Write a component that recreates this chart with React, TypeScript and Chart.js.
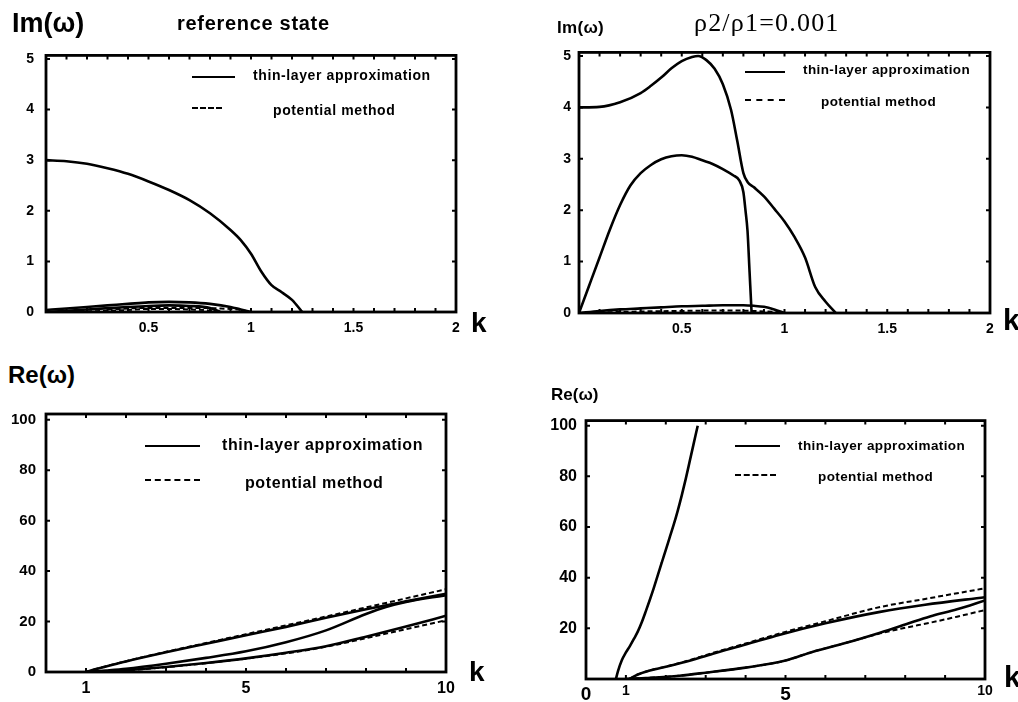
import React, { useEffect, useRef } from "react";
import { Chart, registerables } from "chart.js";

Chart.register(...registerables);

// ---------- Panel 1: Im(ω), reference state ----------
const refImK_main = [0, 0.1, 0.2, 0.3, 0.4, 0.5, 0.6, 0.7, 0.8, 0.9, 0.95, 1.0, 1.05, 1.1, 1.15, 1.2, 1.25];
const refImW_main = [3.0, 2.98, 2.93, 2.84, 2.73, 2.58, 2.41, 2.21, 1.95, 1.62, 1.42, 1.15, 0.8, 0.53, 0.39, 0.24, 0];
const refImK_lowA = [0, 0.1, 0.2, 0.3, 0.4, 0.5, 0.6, 0.7, 0.8, 0.9, 0.95, 1.0];
const refImW_lowA = [0.04, 0.07, 0.1, 0.13, 0.16, 0.19, 0.2, 0.19, 0.16, 0.1, 0.05, 0];
const refImK_lowB = [0, 0.2, 0.4, 0.5, 0.6, 0.7, 0.8, 0.85];
const refImW_lowB = [0, 0.05, 0.1, 0.12, 0.13, 0.12, 0.08, 0];
const refImK_dashC = [0.2, 0.4, 0.5, 0.6, 0.7, 0.8, 0.85];
const refImW_dashC = [0.01, 0.04, 0.06, 0.06, 0.05, 0.03, 0];
const refImK_dashD = [0.3, 0.5, 0.7, 0.85, 0.95, 1.0];
const refImW_dashD = [0.05, 0.08, 0.08, 0.07, 0.04, 0];

// ---------- Panel 2: Im(ω), ρ2/ρ1 = 0.001 ----------
const rhoImK_top = [0, 0.1, 0.2, 0.3, 0.35, 0.4, 0.45, 0.5, 0.55, 0.58, 0.62, 0.66, 0.7, 0.74, 0.77, 0.8, 0.82, 0.85, 0.9, 0.95, 1.0, 1.05, 1.1, 1.15, 1.2, 1.25];
const rhoImW_top = [4.0, 4.01, 4.1, 4.28, 4.42, 4.58, 4.76, 4.9, 4.98, 5.0, 4.92, 4.75, 4.45, 3.95, 3.35, 2.72, 2.55, 2.45, 2.27, 2.03, 1.78, 1.47, 1.08, 0.5, 0.22, 0];
const rhoImK_mid = [0, 0.05, 0.1, 0.15, 0.2, 0.25, 0.3, 0.35, 0.4, 0.45, 0.5, 0.55, 0.6, 0.65, 0.7, 0.75, 0.78, 0.8, 0.81, 0.82, 0.83, 0.84];
const rhoImW_mid = [0, 0.54, 1.08, 1.62, 2.1, 2.48, 2.72, 2.88, 2.99, 3.05, 3.07, 3.04, 2.97, 2.9, 2.8, 2.68, 2.58, 2.35, 2.0, 1.6, 0.8, 0];
const rhoImK_low = [0, 0.1, 0.2, 0.3, 0.4, 0.5, 0.6, 0.7, 0.8, 0.85, 0.9, 0.95, 1.0];
const rhoImW_low = [0, 0.04, 0.07, 0.09, 0.11, 0.13, 0.14, 0.15, 0.15, 0.14, 0.12, 0.07, 0];
const rhoImK_lowDash = [0.1, 0.3, 0.5, 0.7, 0.85, 0.95, 1.0];
const rhoImW_lowDash = [0.01, 0.03, 0.04, 0.05, 0.04, 0.02, 0];

// ---------- Panel 3: Re(ω), reference state ----------
const refReK_up = [1, 1.2, 1.5, 2, 3, 4, 5, 6, 7, 8, 9, 10];
const refReW_up = [0, 1.0, 2.2, 4.2, 7.8, 11.2, 14.6, 17.9, 21.5, 24.9, 28.0, 31.0];
const refReK_upDash = [1, 1.5, 2, 3, 4, 5, 6, 7, 8, 9, 10];
const refReW_upDash = [0, 2.3, 4.3, 8.0, 11.5, 15.0, 18.5, 22.0, 25.6, 29.2, 32.8];
const refReK_mid = [1, 1.5, 2, 3, 4, 5, 6, 7, 8, 8.5, 9, 10];
const refReW_mid = [0, 0.6, 1.3, 3.3, 5.6, 8.2, 11.8, 16.5, 23.0, 25.8, 27.8, 30.5];
const refReK_low = [1, 1.5, 2, 3, 4, 5, 6, 7, 8, 9, 10];
const refReW_low = [0, 0.2, 0.7, 2.0, 3.6, 5.4, 7.6, 10.2, 14.0, 18.0, 22.3];
const refReK_lowDash = [1.5, 2, 3, 4, 5, 6, 7, 8, 9, 10];
const refReW_lowDash = [0.2, 0.6, 1.9, 3.5, 5.3, 7.4, 10.0, 13.4, 17.0, 20.5];

// ---------- Panel 4: Re(ω), ρ2/ρ1 = 0.001 ----------
const rhoReK_steep = [0.75, 0.8, 0.9, 1.0, 1.1, 1.2, 1.3, 1.4, 1.5, 1.6, 1.7, 1.8, 1.9, 2.0, 2.1, 2.2, 2.3, 2.4, 2.5, 2.6, 2.7, 2.8];
const rhoReW_steep = [0, 3, 7.5, 10.5, 13, 15.8, 18.8, 22.5, 26.8, 31.3, 36, 41, 46, 51, 56, 61, 66.5, 72.5, 79, 86, 93, 100];
const rhoReK_mid = [1.09, 1.3, 1.6, 1.92, 2.5, 3.18, 4, 4.86, 6, 7.37, 8.5, 10];
const rhoReW_mid = [0, 1.8, 3.4, 4.5, 6.8, 10.0, 13.6, 17.5, 22.0, 26.5, 29.3, 32.3];
const rhoReW_midDash = [0, 1.8, 3.4, 4.6, 7.0, 10.3, 14.0, 18.0, 22.8, 28.4, 31.6, 35.8];
const rhoReK_low = [1.0, 1.5, 2.34, 3, 4, 5, 5.69, 6.5, 7.37, 8, 8.62, 9.3, 10];
const rhoReW_low = [0, 0.4, 1.3, 2.5, 4.5, 7.3, 10.8, 14.2, 18.3, 21.5, 24.7, 27.5, 31.0];
const rhoReW_lowDash = [0, 0.4, 1.3, 2.5, 4.5, 7.3, 10.8, 14.2, 18.0, 20.2, 22.2, 24.6, 27.2];

// tick values
const imKTicks = [0.5, 1, 1.5, 2];
const imWTicks = [0, 1, 2, 3, 4, 5];
const refReKTicks = [1, 5, 10];
const rhoReKTicks = [0, 1, 5, 10];
const refReWTicks = [0, 20, 40, 60, 80, 100];
const rhoReWTicks = [20, 40, 60, 80, 100];

const LEGEND_SOLID = "thin-layer approximation";
const LEGEND_DASH = "potential method";

type Curve = { k: number[]; w: number[]; dashed?: boolean };

const framePlugin = {
  id: "frame",
  afterDatasetsDraw(chart: any, _args: any, opts: any) {
    const { ctx, chartArea: a, scales } = chart;
    const xs = scales.x;
    const ys = scales.y;
    ctx.save();
    ctx.strokeStyle = "#000";
    ctx.lineWidth = 2;
    ctx.beginPath();
    const len = 4;
    if (opts.xStep) {
      for (let v = xs.min + opts.xStep; v < xs.max - 1e-9; v += opts.xStep) {
        const px = xs.getPixelForValue(v);
        ctx.moveTo(px, a.top);
        ctx.lineTo(px, a.top + len);
        ctx.moveTo(px, a.bottom);
        ctx.lineTo(px, a.bottom - len);
      }
    }
    if (opts.yStep) {
      for (let v = ys.min + opts.yStep; v < ys.max - 1e-9; v += opts.yStep) {
        const py = ys.getPixelForValue(v);
        ctx.moveTo(a.left, py);
        ctx.lineTo(a.left + len, py);
        ctx.moveTo(a.right, py);
        ctx.lineTo(a.right - len, py);
      }
    }
    ctx.stroke();
    ctx.lineWidth = 2.8;
    ctx.strokeRect(a.left, a.top, a.right - a.left, a.bottom - a.top);
    ctx.restore();
  },
};

type PanelProps = {
  left: number;
  top: number;
  chartLeft: number;
  chartTop: number;
  chartRight: number;
  chartBottom: number;
  axisH: number;
  xMin: number;
  xMax: number;
  yMax: number;
  xTicks: number[];
  yTicks: number[];
  xStep: number;
  yStep: number;
  xFont: any;
  yFont: any;
  xPad: number;
  yPad: number;
  curves: Curve[];
};

const PAD_RIGHT = 22;

function Panel(p: PanelProps) {
  const ref = useRef<HTMLCanvasElement | null>(null);
  const width = p.chartRight + PAD_RIGHT - p.left;
  const height = p.chartBottom + p.axisH - p.top;
  useEffect(() => {
    if (!ref.current) return;
    const chart = new Chart(ref.current, {
      type: "line",
      data: {
        datasets: p.curves.map((c) => ({
          data: c.k.map((k, i) => ({ x: k, y: c.w[i] })),
          borderColor: "#000",
          backgroundColor: "#000",
          borderWidth: c.dashed ? 2 : 2.6,
          borderDash: c.dashed ? [5, 3] : [],
          pointRadius: 0,
          fill: false,
          cubicInterpolationMode: "monotone",
        })),
      },
      options: {
        responsive: false,
        animation: false,
        devicePixelRatio: 1,
        layout: {
          padding: {
            top: p.chartTop - p.top,
            right: PAD_RIGHT,
            left: 0,
            bottom: 0,
          },
        },
        plugins: {
          legend: { display: false },
          tooltip: { enabled: false },
          frame: { xStep: p.xStep, yStep: p.yStep },
        } as any,
        scales: {
          x: {
            type: "linear",
            min: p.xMin,
            max: p.xMax,
            grid: { display: false, drawTicks: false },
            border: { display: false },
            afterBuildTicks: (s: any) => {
              s.ticks = p.xTicks.map((v) => ({ value: v }));
            },
            afterFit: (s: any) => {
              s.height = p.axisH;
            },
            ticks: {
              color: "#000",
              padding: p.xPad,
              autoSkip: false,
              maxRotation: 0,
              font: p.xFont,
              callback: (v: any) => String(v),
            },
          },
          y: {
            type: "linear",
            min: 0,
            max: p.yMax,
            grid: { display: false, drawTicks: false },
            border: { display: false },
            afterBuildTicks: (s: any) => {
              s.ticks = p.yTicks.map((v) => ({ value: v }));
            },
            afterFit: (s: any) => {
              s.width = p.chartLeft - p.left;
            },
            ticks: {
              color: "#000",
              padding: p.yPad,
              autoSkip: false,
              font: p.yFont,
              callback: (v: any) => String(v),
            },
          },
        },
      },
      plugins: [framePlugin as any],
    });
    return () => chart.destroy();
  }, []);
  return (
    <canvas
      ref={ref}
      width={width}
      height={height}
      style={{ position: "absolute", left: p.left, top: p.top, width, height }}
    />
  );
}

const SANS = "'Liberation Sans', Arial, Helvetica, sans-serif";
const SERIF = "'Liberation Serif', 'Times New Roman', serif";

function Txt(props: {
  x: number;
  y: number;
  size: number;
  text: string;
  serif?: boolean;
  ls?: number;
  bold?: boolean;
}) {
  return (
    <div
      style={{
        position: "absolute",
        left: props.x,
        top: props.y,
        fontFamily: props.serif ? SERIF : SANS,
        fontWeight: props.bold === false ? "normal" : "bold",
        fontSize: props.size,
        lineHeight: 1,
        letterSpacing: props.ls || 0,
        whiteSpace: "nowrap",
        color: "#000",
      }}
    >
      {props.text}
    </div>
  );
}

function Sample(props: { x: number; y: number; w: number; dashed?: boolean }) {
  return (
    <div
      style={{
        position: "absolute",
        left: props.x,
        top: props.y - 1,
        width: props.w,
        height: 0,
        borderTop: props.dashed ? "2px dashed #000" : "2px solid #000",
      }}
    />
  );
}

export default function App() {
  const f = (size: number) => ({ family: SANS, size, weight: "bold" as const });
  return (
    <div
      style={{
        position: "fixed",
        left: 0,
        top: 0,
        width: 1018,
        height: 702,
        background: "#fff",
        overflow: "hidden",
      }}
    >
      {/* Panel 1 */}
      <Panel
        left={0}
        top={35}
        chartLeft={46}
        chartTop={47}
        chartRight={456}
        chartBottom={312}
        axisH={30}
        xMin={0}
        xMax={2}
        yMax={5.07}
        xTicks={imKTicks}
        yTicks={imWTicks}
        xStep={0.1}
        yStep={1}
        xFont={f(14)}
        yFont={f(14)}
        xPad={8}
        yPad={12}
        curves={[
          { k: refImK_main, w: refImW_main },
          { k: refImK_lowA, w: refImW_lowA },
          { k: refImK_lowB, w: refImW_lowB },
          { k: refImK_dashC, w: refImW_dashC, dashed: true },
          { k: refImK_dashD, w: refImW_dashD, dashed: true },
        ]}
      />
      {/* Panel 2 */}
      <Panel
        left={520}
        top={36}
        chartLeft={579}
        chartTop={48}
        chartRight={990}
        chartBottom={313}
        axisH={30}
        xMin={0}
        xMax={2}
        yMax={5.07}
        xTicks={imKTicks}
        yTicks={imWTicks}
        xStep={0.1}
        yStep={1}
        xFont={f(14)}
        yFont={f(14)}
        xPad={8}
        yPad={8}
        curves={[
          { k: rhoImK_top, w: rhoImW_top },
          { k: rhoImK_mid, w: rhoImW_mid },
          { k: rhoImK_low, w: rhoImW_low },
          { k: rhoImK_lowDash, w: rhoImW_lowDash, dashed: true },
        ]}
      />
      {/* Panel 3 */}
      <Panel
        left={0}
        top={395}
        chartLeft={46}
        chartTop={407}
        chartRight={446}
        chartBottom={672}
        axisH={28}
        xMin={0}
        xMax={10}
        yMax={102.3}
        xTicks={refReKTicks}
        yTicks={refReWTicks}
        xStep={1}
        yStep={20}
        xFont={f(16)}
        yFont={f(15)}
        xPad={7}
        yPad={10}
        curves={[
          { k: refReK_upDash, w: refReW_upDash, dashed: true },
          { k: refReK_up, w: refReW_up },
          { k: refReK_mid, w: refReW_mid },
          { k: refReK_lowDash, w: refReW_lowDash, dashed: true },
          { k: refReK_low, w: refReW_low },
        ]}
      />
      {/* Panel 4 */}
      <Panel
        left={520}
        top={402}
        chartLeft={586}
        chartTop={414}
        chartRight={985}
        chartBottom={679}
        axisH={23}
        xMin={0}
        xMax={10}
        yMax={102}
        xTicks={rhoReKTicks}
        yTicks={rhoReWTicks}
        xStep={1}
        yStep={20}
        xFont={(ctx: any) =>
          ctx.tick && (ctx.tick.value === 0 || ctx.tick.value === 5) ? f(19) : f(14)
        }
        yFont={f(16)}
        xPad={4}
        yPad={9}
        curves={[
          { k: rhoReK_steep, w: rhoReW_steep },
          { k: rhoReK_mid, w: rhoReW_midDash, dashed: true },
          { k: rhoReK_mid, w: rhoReW_mid },
          { k: rhoReK_low, w: rhoReW_lowDash, dashed: true },
          { k: rhoReK_low, w: rhoReW_low },
        ]}
      />

      {/* Axis labels and titles */}
      <Txt x={12} y={10} size={27} text="Im(ω)" />
      <Txt x={177} y={13} size={20} ls={0.7} text="reference state" />
      <Txt x={471} y={309} size={28} text="k" />

      <Txt x={557} y={19} size={17} text="Im(ω)" ls={0.3} />
      <Txt x={694} y={10} size={26} text="ρ2/ρ1=0.001" serif bold={false} ls={1.2} />
      <Txt x={1003} y={305} size={30} text="k" />

      <Txt x={8} y={363} size={24} text="Re(ω)" />
      <Txt x={469} y={658} size={28} text="k" />

      <Txt x={551} y={386} size={17} text="Re(ω)" />
      <Txt x={1004} y={662} size={30} text="k" />

      {/* Legends */}
      <Sample x={192} y={77} w={43} />
      <Txt x={253} y={68} size={14} ls={0.6} text={LEGEND_SOLID} />
      <Sample x={192} y={108} w={30} dashed />
      <Txt x={273} y={103} size={14} ls={0.6} text={LEGEND_DASH} />

      <Sample x={745} y={72} w={40} />
      <Txt x={803} y={63} size={13.5} ls={0.4} text={LEGEND_SOLID} />
      <Sample x={745} y={100} w={40} dashed />
      <Txt x={821} y={95} size={13.5} ls={0.4} text={LEGEND_DASH} />

      <Sample x={145} y={446} w={55} />
      <Txt x={222} y={437} size={16} ls={0.6} text={LEGEND_SOLID} />
      <Sample x={145} y={480} w={55} dashed />
      <Txt x={245} y={475} size={16} ls={0.6} text={LEGEND_DASH} />

      <Sample x={735} y={446} w={45} />
      <Txt x={798} y={439} size={13.5} ls={0.4} text={LEGEND_SOLID} />
      <Sample x={735} y={475} w={41} dashed />
      <Txt x={818} y={470} size={13.5} ls={0.4} text={LEGEND_DASH} />
    </div>
  );
}
